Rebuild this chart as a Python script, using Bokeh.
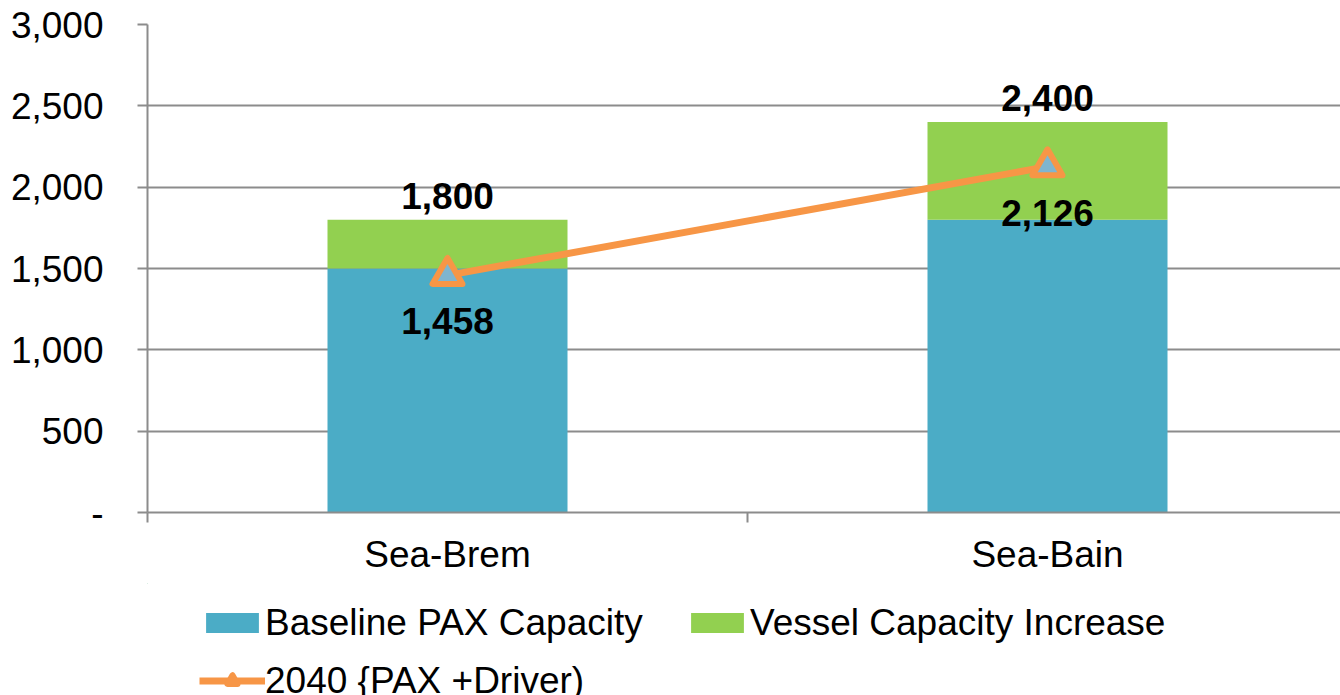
from bokeh.plotting import figure
from bokeh.layouts import column
from bokeh.models import (Range1d, FixedTicker, NumeralTickFormatter, Legend, LegendItem,
                          ColumnDataSource)
from bokeh.core.properties import value
from bokeh.embed import file_html
from bokeh.resources import INLINE

categories = ["Sea-Brem", "Sea-Bain"]
baseline = [1500, 1800]
increase = [300, 600]
pax_2040 = [1458, 2126]
y_ticks = [0, 500, 1000, 1500, 2000, 2500, 3000]
series_names = ["Baseline PAX Capacity", "Vessel Capacity Increase", "2040 {PAX +Driver)"]

FONT = "Liberation Sans"
FS = "37px"
GRID = "#8c8c8c"
BLUE = "#4BACC6"
GREEN = "#92D050"
ORANGE = "#F79646"
TRI_FILL = "#7fb5cf"

xs = [i + 0.5 for i in range(len(categories))]
totals = [b + v for b, v in zip(baseline, increase)]

src = ColumnDataSource(dict(
    x=xs, base=baseline, inc=increase, tot=totals, line=pax_2040,
    tot_lbl=[f"{t:,}" for t in totals],
    line_lbl=[f"{v:,}" for v in pax_2040],
))


def add_series(fig):
    r1 = fig.vbar(x="x", top="base", bottom=0, width=0.4, fill_color=BLUE,
                  line_color=None, source=src)
    r2 = fig.vbar(x="x", top="tot", bottom="base", width=0.4, fill_color=GREEN,
                  line_color=None, source=src)
    r3 = fig.line(x="x", y="line", line_color=ORANGE, line_width=7, source=src)
    r4 = fig.scatter(x="x", y="line", marker="triangle", size=30, fill_color=TRI_FILL,
                     line_color=ORANGE, line_width=6, line_join="round", source=src)
    return r1, r2, r3, r4


p = figure(width=1340, height=583, output_backend="svg", toolbar_location=None,
           x_range=Range1d(0, 1193 / 600), y_range=Range1d(0, 3000),
           min_border_left=147, min_border_right=0, min_border_top=24,
           min_border_bottom=71)
p.outline_line_color = None
p.background_fill_color = "white"

add_series(p)

p.text(x="x", y="tot", text="tot_lbl", source=src, text_font=value(FONT),
       text_font_style="bold", text_font_size=FS, text_align="center",
       text_baseline="middle", y_offset=-24, text_color="black")
p.text(x="x", y="line", text="line_lbl", source=src, text_font=value(FONT),
       text_font_style="bold", text_font_size=FS, text_align="center",
       text_baseline="middle", y_offset=46, text_color="black")

# y axis
p.yaxis.ticker = FixedTicker(ticks=y_ticks)
p.yaxis.formatter = NumeralTickFormatter(format="0,0")
p.yaxis.major_label_overrides = {0: "-"}
p.yaxis.axis_line_color = GRID
p.yaxis.axis_line_width = 2
p.yaxis.major_tick_line_color = GRID
p.yaxis.major_tick_line_width = 2
p.yaxis.major_tick_in = 0
p.yaxis.major_tick_out = 10
p.yaxis.minor_tick_line_color = None
p.yaxis.major_label_standoff = 34
p.yaxis.major_label_text_font = FONT
p.yaxis.major_label_text_font_size = FS
p.yaxis.major_label_text_color = "black"

# x axis
p.xaxis.ticker = FixedTicker(ticks=xs, minor_ticks=[0, 1, 2])
p.xaxis.major_label_overrides = {x: c for x, c in zip(xs, categories)}
p.xaxis.axis_line_color = GRID
p.xaxis.axis_line_width = 2
p.xaxis.major_tick_line_color = None
p.xaxis.major_tick_in = 0
p.xaxis.major_tick_out = 10
p.xaxis.minor_tick_line_color = GRID
p.xaxis.minor_tick_line_width = 2
p.xaxis.minor_tick_in = 0
p.xaxis.minor_tick_out = 10
p.xaxis.major_label_standoff = 11
p.xaxis.major_label_text_font = FONT
p.xaxis.major_label_text_font_size = FS
p.xaxis.major_label_text_color = "black"

p.xgrid.grid_line_color = None
p.ygrid.ticker = FixedTicker(ticks=y_ticks)
p.ygrid.grid_line_color = GRID
p.ygrid.grid_line_width = 2

# legend strip below the chart (series lie far outside its ranges; only the legend shows)
lg = figure(width=1340, height=112, output_backend="svg", toolbar_location=None,
            x_range=Range1d(100, 101), y_range=Range1d(-2, -1), min_border=0,
            x_axis_type=None, y_axis_type=None)
lg.outline_line_color = None
lg.grid.visible = False
lr1, lr2, lr3, lr4 = add_series(lg)

legend = Legend(items=[
    LegendItem(label=series_names[0], renderers=[lr1]),
    LegendItem(label=series_names[1], renderers=[lr2]),
    LegendItem(label=series_names[2], renderers=[lr3, lr4]),
], orientation="horizontal", ncols=2, location=(52, -12),
    border_line_color=None, background_fill_alpha=0, padding=0, margin=0,
    glyph_width=66, glyph_height=25, label_standoff=0, spacing=5,
    label_height=53, label_width=414,
    label_text_font=FONT, label_text_font_size=FS, label_text_color="black")
lg.add_layout(legend, "center")

layout = column(p, lg, spacing=0)
open("out.html", "w").write(file_html(layout, INLINE))
